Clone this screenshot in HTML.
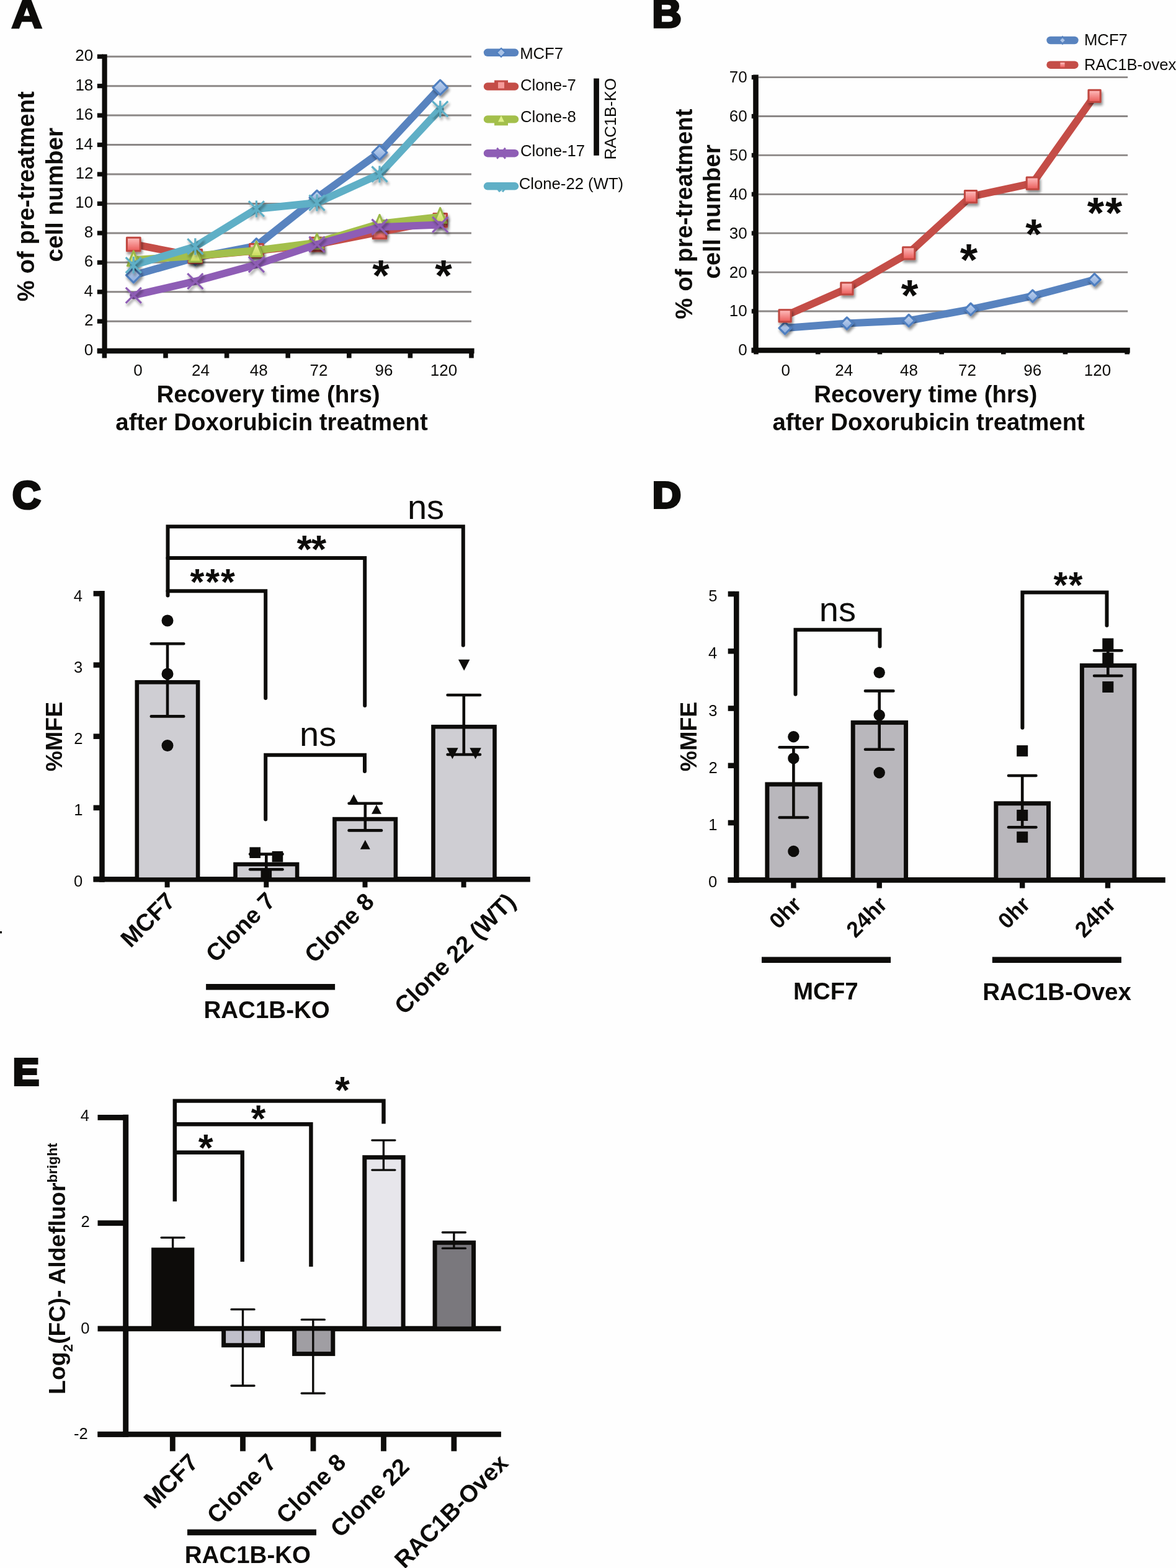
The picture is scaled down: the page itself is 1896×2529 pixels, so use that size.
<!DOCTYPE html>
<html><head><meta charset="utf-8"><title>Figure</title>
<style>
html,body{margin:0;padding:0;background:#fff;}
body{width:1896px;height:2529px;overflow:hidden;}
svg{display:block;}
text{font-family:'Liberation Sans', Arial, Helvetica, sans-serif;}
</style></head><body>
<svg width="1896" height="2529" viewBox="0 0 1896 2529">
<rect width="1896" height="2529" fill="#fefefe"/>
<defs>
<filter id="sh" x="-50%" y="-50%" width="220%" height="220%">
<feGaussianBlur in="SourceAlpha" stdDeviation="2.2"/>
<feOffset dx="2" dy="4" result="b"/>
<feComponentTransfer><feFuncA type="linear" slope="0.45"/></feComponentTransfer>
<feMerge><feMergeNode/><feMergeNode in="SourceGraphic"/></feMerge>
</filter>
<linearGradient id="gB" x1="0" y1="0" x2="0" y2="1"><stop offset="0" stop-color="#c3d5ef"/><stop offset="1" stop-color="#86a8db"/></linearGradient>
<linearGradient id="gR" x1="0" y1="0" x2="0" y2="1"><stop offset="0" stop-color="#ffc0c0"/><stop offset="1" stop-color="#ea5a58"/></linearGradient>
<linearGradient id="gG" x1="0" y1="0" x2="0" y2="1"><stop offset="0" stop-color="#f3f8b8"/><stop offset="1" stop-color="#c8dc58"/></linearGradient>
</defs>
<text transform="translate(18.6,45.8) scale(1.065,1)" x="-0.32" y="-1.3" font-size="65" font-weight="bold" fill="#0d0c0a" stroke="#0d0c0a" stroke-width="2.6" stroke-linejoin="miter">A</text>
<text transform="translate(1053.6,45.8) scale(1.03,1)" x="-2.36" y="-1.8" font-size="64" font-weight="bold" fill="#0d0c0a" stroke="#0d0c0a" stroke-width="3.6" stroke-linejoin="miter">B</text>
<text transform="translate(20.4,822) scale(0.995,1)" x="-0.44" y="-2.1" font-size="63.5" font-weight="bold" fill="#0d0c0a" stroke="#0d0c0a" stroke-width="4.2" stroke-linejoin="miter">C</text>
<text transform="translate(1053.8,821) scale(1.06,1)" x="-1.8" y="-2.1" font-size="60" font-weight="bold" fill="#0d0c0a" stroke="#0d0c0a" stroke-width="4.2" stroke-linejoin="miter">D</text>
<text transform="translate(22.8,1752.2) scale(1.04,1)" x="-1.87" y="-2.1" font-size="61" font-weight="bold" fill="#0d0c0a" stroke="#0d0c0a" stroke-width="4.2" stroke-linejoin="miter">E</text>
<line x1="172" y1="518.25" x2="760" y2="518.25" stroke="#8b8786" stroke-width="3" stroke-linecap="butt"/>
<line x1="172" y1="470.8" x2="760" y2="470.8" stroke="#8b8786" stroke-width="3" stroke-linecap="butt"/>
<line x1="172" y1="423.35" x2="760" y2="423.35" stroke="#8b8786" stroke-width="3" stroke-linecap="butt"/>
<line x1="172" y1="375.9" x2="760" y2="375.9" stroke="#8b8786" stroke-width="3" stroke-linecap="butt"/>
<line x1="172" y1="328.45" x2="760" y2="328.45" stroke="#8b8786" stroke-width="3" stroke-linecap="butt"/>
<line x1="172" y1="281" x2="760" y2="281" stroke="#8b8786" stroke-width="3" stroke-linecap="butt"/>
<line x1="172" y1="233.55" x2="760" y2="233.55" stroke="#8b8786" stroke-width="3" stroke-linecap="butt"/>
<line x1="172" y1="186.1" x2="760" y2="186.1" stroke="#8b8786" stroke-width="3" stroke-linecap="butt"/>
<line x1="172" y1="138.65" x2="760" y2="138.65" stroke="#8b8786" stroke-width="3" stroke-linecap="butt"/>
<line x1="172" y1="91.2" x2="760" y2="91.2" stroke="#8b8786" stroke-width="3" stroke-linecap="butt"/>
<line x1="168.6" y1="87.5" x2="168.6" y2="570" stroke="#0d0c0a" stroke-width="8.2" stroke-linecap="butt"/>
<rect x="156.8" y="562.1" width="9.2" height="7.2" fill="#0d0c0a"/>
<rect x="156.8" y="514.65" width="9.2" height="7.2" fill="#0d0c0a"/>
<rect x="156.8" y="467.2" width="9.2" height="7.2" fill="#0d0c0a"/>
<rect x="156.8" y="419.75" width="9.2" height="7.2" fill="#0d0c0a"/>
<rect x="156.8" y="372.3" width="9.2" height="7.2" fill="#0d0c0a"/>
<rect x="156.8" y="324.85" width="9.2" height="7.2" fill="#0d0c0a"/>
<rect x="156.8" y="277.4" width="9.2" height="7.2" fill="#0d0c0a"/>
<rect x="156.8" y="229.95" width="9.2" height="7.2" fill="#0d0c0a"/>
<rect x="156.8" y="182.5" width="9.2" height="7.2" fill="#0d0c0a"/>
<rect x="156.8" y="135.05" width="9.2" height="7.2" fill="#0d0c0a"/>
<rect x="156.8" y="87.6" width="9.2" height="7.2" fill="#0d0c0a"/>
<line x1="156.8" y1="566" x2="764.6" y2="566" stroke="#0d0c0a" stroke-width="8.4" stroke-linecap="butt"/>
<rect x="164.6" y="566" width="7.6" height="11.5" fill="#0d0c0a"/>
<rect x="263.2" y="566" width="7.6" height="11.5" fill="#0d0c0a"/>
<rect x="361.8" y="566" width="7.6" height="11.5" fill="#0d0c0a"/>
<rect x="460.4" y="566" width="7.6" height="11.5" fill="#0d0c0a"/>
<rect x="559" y="566" width="7.6" height="11.5" fill="#0d0c0a"/>
<rect x="657.6" y="566" width="7.6" height="11.5" fill="#0d0c0a"/>
<rect x="756.2" y="566" width="7.6" height="11.5" fill="#0d0c0a"/>
<text x="135.68" y="572.7" font-size="26" fill="#0d0c0a">0</text>
<text x="136.07" y="525.25" font-size="26" fill="#0d0c0a">2</text>
<text x="135.55" y="477.8" font-size="26" fill="#0d0c0a">4</text>
<text x="135.81" y="430.35" font-size="26" fill="#0d0c0a">6</text>
<text x="135.81" y="382.9" font-size="26" fill="#0d0c0a">8</text>
<text x="121.25" y="335.45" font-size="26" fill="#0d0c0a">10</text>
<text x="121.64" y="288" font-size="26" fill="#0d0c0a">12</text>
<text x="121.12" y="240.55" font-size="26" fill="#0d0c0a">14</text>
<text x="121.38" y="193.1" font-size="26" fill="#0d0c0a">16</text>
<text x="121.38" y="145.65" font-size="26" fill="#0d0c0a">18</text>
<text x="121.25" y="98.2" font-size="26" fill="#0d0c0a">20</text>
<text x="215.32" y="606.4" font-size="26" fill="#0d0c0a">0</text>
<text x="309.01" y="606.4" font-size="26" fill="#0d0c0a">24</text>
<text x="402.83" y="606.4" font-size="26" fill="#0d0c0a">48</text>
<text x="499.57" y="606.4" font-size="26" fill="#0d0c0a">72</text>
<text x="604.5" y="606.4" font-size="26" fill="#0d0c0a">96</text>
<text x="693.84" y="606.4" font-size="26" fill="#0d0c0a">120</text>
<text x="252.49" y="648.9" font-size="38.6" font-weight="bold" fill="#0d0c0a">Recovery time (hrs)</text>
<text x="186.35" y="694.4" font-size="38.4" font-weight="bold" fill="#0d0c0a">after Doxorubicin treatment</text>
<text transform="translate(55.2,485.3) rotate(-90)" x="-0.96" y="0" font-size="38.4" font-weight="bold" fill="#0d0c0a">% of pre-treatment</text>
<text transform="translate(101.3,421) rotate(-90)" x="-1.54" y="0" font-size="38.6" font-weight="bold" fill="#0d0c0a">cell number</text>
<polyline points="215.3,443.99 314.8,415.52 413.4,396.54 511,318.96 612,246.12 709.7,141.02" fill="none" stroke="#5883bf" stroke-width="12" stroke-linejoin="round" stroke-linecap="round"/>
<path d="M215.3,432.19 L227.1,443.99 L215.3,455.79 L203.5,443.99 Z" fill="url(#gB)" stroke="#4f7fc0" stroke-width="3.2" stroke-linejoin="round" filter="url(#sh)"/>
<path d="M314.8,403.72 L326.6,415.52 L314.8,427.32 L303,415.52 Z" fill="url(#gB)" stroke="#4f7fc0" stroke-width="3.2" stroke-linejoin="round" filter="url(#sh)"/>
<path d="M413.4,384.74 L425.2,396.54 L413.4,408.34 L401.6,396.54 Z" fill="url(#gB)" stroke="#4f7fc0" stroke-width="3.2" stroke-linejoin="round" filter="url(#sh)"/>
<path d="M511,307.16 L522.8,318.96 L511,330.76 L499.2,318.96 Z" fill="url(#gB)" stroke="#4f7fc0" stroke-width="3.2" stroke-linejoin="round" filter="url(#sh)"/>
<path d="M612,234.32 L623.8,246.12 L612,257.92 L600.2,246.12 Z" fill="url(#gB)" stroke="#4f7fc0" stroke-width="3.2" stroke-linejoin="round" filter="url(#sh)"/>
<path d="M709.7,129.22 L721.5,141.02 L709.7,152.82 L697.9,141.02 Z" fill="url(#gB)" stroke="#4f7fc0" stroke-width="3.2" stroke-linejoin="round" filter="url(#sh)"/>
<polyline points="215.3,393.93 314.8,413.39 413.4,404.37 511,394.17 612,374 709.7,355.26" fill="none" stroke="#c44d47" stroke-width="12" stroke-linejoin="round" stroke-linecap="round"/>
<rect x="204.5" y="383.13" width="21.6" height="21.6" fill="url(#gR)" stroke="#c0463f" stroke-width="3" stroke-linejoin="round" filter="url(#sh)"/>
<rect x="304" y="402.59" width="21.6" height="21.6" fill="url(#gR)" stroke="#c0463f" stroke-width="3" stroke-linejoin="round" filter="url(#sh)"/>
<rect x="402.6" y="393.57" width="21.6" height="21.6" fill="url(#gR)" stroke="#c0463f" stroke-width="3" stroke-linejoin="round" filter="url(#sh)"/>
<rect x="500.2" y="383.37" width="21.6" height="21.6" fill="url(#gR)" stroke="#c0463f" stroke-width="3" stroke-linejoin="round" filter="url(#sh)"/>
<rect x="601.2" y="363.2" width="21.6" height="21.6" fill="url(#gR)" stroke="#c0463f" stroke-width="3" stroke-linejoin="round" filter="url(#sh)"/>
<rect x="698.9" y="344.46" width="21.6" height="21.6" fill="url(#gR)" stroke="#c0463f" stroke-width="3" stroke-linejoin="round" filter="url(#sh)"/>
<polyline points="215.3,419.32 314.8,412.67 413.4,403.9 511,391.32 612,360.95 709.7,349.8" fill="none" stroke="#a3bf4b" stroke-width="12" stroke-linejoin="round" stroke-linecap="round"/>
<path d="M215.3,404.82 L225.3,428.82 L205.3,428.82 Z" fill="url(#gG)" stroke="#9ab847" stroke-width="3" stroke-linejoin="round" filter="url(#sh)"/>
<path d="M314.8,398.17 L324.8,422.17 L304.8,422.17 Z" fill="url(#gG)" stroke="#9ab847" stroke-width="3" stroke-linejoin="round" filter="url(#sh)"/>
<path d="M413.4,389.4 L423.4,413.4 L403.4,413.4 Z" fill="url(#gG)" stroke="#9ab847" stroke-width="3" stroke-linejoin="round" filter="url(#sh)"/>
<path d="M511,376.82 L521,400.82 L501,400.82 Z" fill="url(#gG)" stroke="#9ab847" stroke-width="3" stroke-linejoin="round" filter="url(#sh)"/>
<path d="M612,346.45 L622,370.45 L602,370.45 Z" fill="url(#gG)" stroke="#9ab847" stroke-width="3" stroke-linejoin="round" filter="url(#sh)"/>
<path d="M709.7,335.3 L719.7,359.3 L699.7,359.3 Z" fill="url(#gG)" stroke="#9ab847" stroke-width="3" stroke-linejoin="round" filter="url(#sh)"/>
<polyline points="215.3,476.49 314.8,453.72 413.4,426.67 511,394.17 612,366.17 709.7,362.38" fill="none" stroke="#8e5db5" stroke-width="12" stroke-linejoin="round" stroke-linecap="round"/>
<path d="M202.8,463.99 L227.8,488.99 M227.8,463.99 L202.8,488.99" stroke="#8e5db5" stroke-width="3.2" fill="none" filter="url(#sh)"/>
<path d="M302.3,441.22 L327.3,466.22 M327.3,441.22 L302.3,466.22" stroke="#8e5db5" stroke-width="3.2" fill="none" filter="url(#sh)"/>
<path d="M400.9,414.17 L425.9,439.17 M425.9,414.17 L400.9,439.17" stroke="#8e5db5" stroke-width="3.2" fill="none" filter="url(#sh)"/>
<path d="M498.5,381.67 L523.5,406.67 M523.5,381.67 L498.5,406.67" stroke="#8e5db5" stroke-width="3.2" fill="none" filter="url(#sh)"/>
<path d="M599.5,353.67 L624.5,378.67 M624.5,353.67 L599.5,378.67" stroke="#8e5db5" stroke-width="3.2" fill="none" filter="url(#sh)"/>
<path d="M697.2,349.88 L722.2,374.88 M722.2,349.88 L697.2,374.88" stroke="#8e5db5" stroke-width="3.2" fill="none" filter="url(#sh)"/>
<polyline points="215.3,427.62 314.8,397.73 413.4,336.99 511,327.03 612,281 709.7,175.9" fill="none" stroke="#5fafc6" stroke-width="12" stroke-linejoin="round" stroke-linecap="round"/>
<path d="M202.8,415.12 L227.8,440.12 M227.8,415.12 L202.8,440.12 M215.3,414.12 L215.3,441.12" stroke="#5fafc6" stroke-width="3.2" fill="none" filter="url(#sh)"/>
<path d="M302.3,385.23 L327.3,410.23 M327.3,385.23 L302.3,410.23 M314.8,384.23 L314.8,411.23" stroke="#5fafc6" stroke-width="3.2" fill="none" filter="url(#sh)"/>
<path d="M400.9,324.49 L425.9,349.49 M425.9,324.49 L400.9,349.49 M413.4,323.49 L413.4,350.49" stroke="#5fafc6" stroke-width="3.2" fill="none" filter="url(#sh)"/>
<path d="M498.5,314.53 L523.5,339.53 M523.5,314.53 L498.5,339.53 M511,313.53 L511,340.53" stroke="#5fafc6" stroke-width="3.2" fill="none" filter="url(#sh)"/>
<path d="M599.5,268.5 L624.5,293.5 M624.5,268.5 L599.5,293.5 M612,267.5 L612,294.5" stroke="#5fafc6" stroke-width="3.2" fill="none" filter="url(#sh)"/>
<path d="M697.2,163.4 L722.2,188.4 M722.2,163.4 L697.2,188.4 M709.7,162.4 L709.7,189.4" stroke="#5fafc6" stroke-width="3.2" fill="none" filter="url(#sh)"/>
<text x="600.25" y="469.26" font-size="70.81" font-weight="bold" fill="#0d0c0a">*</text>
<text x="701.25" y="469.26" font-size="70.81" font-weight="bold" fill="#0d0c0a">*</text>
<line x1="786" y1="84.8" x2="830" y2="84.8" stroke="#5883bf" stroke-width="12.4" stroke-linecap="round"/>
<path d="M808,77.8 L815,84.8 L808,91.8 L801,84.8 Z" fill="#a9c2e6" stroke="#4f7fc0" stroke-width="2"/>
<text x="838.14" y="94.5" font-size="25.7" fill="#0d0c0a">MCF7</text>
<line x1="786" y1="139.5" x2="830" y2="139.5" stroke="#c44d47" stroke-width="12.4" stroke-linecap="round"/>
<rect x="797" y="129.5" width="22" height="14" fill="#c44d47"/><rect x="803" y="132.5" width="10" height="10" fill="#f59a98"/>
<text x="838.92" y="146" font-size="25.7" fill="#0d0c0a">Clone-7</text>
<line x1="786" y1="192.4" x2="830" y2="192.4" stroke="#a3bf4b" stroke-width="12.4" stroke-linecap="round"/>
<rect x="797" y="190.4" width="22" height="12" fill="#a3bf4b"/><path d="M808,186.4 L813,196.4 L803,196.4 Z" fill="#dff08a"/>
<text x="838.92" y="196.9" font-size="25.7" fill="#0d0c0a">Clone-8</text>
<line x1="786" y1="247.2" x2="830" y2="247.2" stroke="#8e5db5" stroke-width="12.4" stroke-linecap="round"/>
<path d="M801.2,238.7 L814.8,255.7 M814.8,238.7 L801.2,255.7" stroke="#8e5db5" stroke-width="3"/>
<text x="838.92" y="252.4" font-size="25.7" fill="#0d0c0a">Clone-17</text>
<line x1="786" y1="300.3" x2="830" y2="300.3" stroke="#5fafc6" stroke-width="12.4" stroke-linecap="round"/>
<path d="M802,304.3 L806,309.3 M814,304.3 L810,309.3 M807,302.3 L807,308.3" stroke="#5fafc6" stroke-width="3"/>
<text x="836.72" y="305.4" font-size="25.7" fill="#0d0c0a">Clone-22 (WT)</text>
<rect x="957.2" y="126.5" width="8.7" height="124.3" fill="#0d0c0a"/>
<text transform="translate(993.4,255.4) rotate(-90)" x="-2.06" y="0" font-size="25.7" fill="#0d0c0a">RAC1B-KO</text>
<line x1="1223" y1="502" x2="1818.2" y2="502" stroke="#8b8786" stroke-width="2.8" stroke-linecap="butt"/>
<line x1="1223" y1="439.1" x2="1818.2" y2="439.1" stroke="#8b8786" stroke-width="2.8" stroke-linecap="butt"/>
<line x1="1223" y1="376.2" x2="1818.2" y2="376.2" stroke="#8b8786" stroke-width="2.8" stroke-linecap="butt"/>
<line x1="1223" y1="313.3" x2="1818.2" y2="313.3" stroke="#8b8786" stroke-width="2.8" stroke-linecap="butt"/>
<line x1="1223" y1="250.4" x2="1818.2" y2="250.4" stroke="#8b8786" stroke-width="2.8" stroke-linecap="butt"/>
<line x1="1223" y1="187.5" x2="1818.2" y2="187.5" stroke="#8b8786" stroke-width="2.8" stroke-linecap="butt"/>
<line x1="1223" y1="124.6" x2="1818.2" y2="124.6" stroke="#8b8786" stroke-width="2.8" stroke-linecap="butt"/>
<line x1="1218.5" y1="120.6" x2="1218.5" y2="569" stroke="#0d0c0a" stroke-width="8.6" stroke-linecap="butt"/>
<rect x="1211.8" y="561.3" width="4.2" height="7.2" fill="#0d0c0a"/>
<rect x="1211.8" y="498.4" width="4.2" height="7.2" fill="#0d0c0a"/>
<rect x="1211.8" y="435.5" width="4.2" height="7.2" fill="#0d0c0a"/>
<rect x="1211.8" y="372.6" width="4.2" height="7.2" fill="#0d0c0a"/>
<rect x="1211.8" y="309.7" width="4.2" height="7.2" fill="#0d0c0a"/>
<rect x="1211.8" y="246.8" width="4.2" height="7.2" fill="#0d0c0a"/>
<rect x="1211.8" y="183.9" width="4.2" height="7.2" fill="#0d0c0a"/>
<rect x="1211.8" y="121" width="4.2" height="7.2" fill="#0d0c0a"/>
<line x1="1211.6" y1="565" x2="1821.8" y2="565" stroke="#0d0c0a" stroke-width="8.4" stroke-linecap="butt"/>
<rect x="1215.2" y="565" width="7.6" height="6.4" fill="#0d0c0a"/>
<rect x="1314.9" y="565" width="7.6" height="6.4" fill="#0d0c0a"/>
<rect x="1414.6" y="565" width="7.6" height="6.4" fill="#0d0c0a"/>
<rect x="1514.3" y="565" width="7.6" height="6.4" fill="#0d0c0a"/>
<rect x="1614" y="565" width="7.6" height="6.4" fill="#0d0c0a"/>
<rect x="1713.7" y="565" width="7.6" height="6.4" fill="#0d0c0a"/>
<rect x="1813.4" y="565" width="7.6" height="6.4" fill="#0d0c0a"/>
<text x="1190.28" y="573.3" font-size="26" fill="#0d0c0a">0</text>
<text x="1175.85" y="510.4" font-size="26" fill="#0d0c0a">10</text>
<text x="1175.85" y="447.5" font-size="26" fill="#0d0c0a">20</text>
<text x="1175.85" y="384.6" font-size="26" fill="#0d0c0a">30</text>
<text x="1175.85" y="321.7" font-size="26" fill="#0d0c0a">40</text>
<text x="1175.85" y="258.8" font-size="26" fill="#0d0c0a">50</text>
<text x="1175.85" y="195.9" font-size="26" fill="#0d0c0a">60</text>
<text x="1175.85" y="133" font-size="26" fill="#0d0c0a">70</text>
<text x="1259.52" y="605.8" font-size="26" fill="#0d0c0a">0</text>
<text x="1346.21" y="605.8" font-size="26" fill="#0d0c0a">24</text>
<text x="1451.03" y="605.8" font-size="26" fill="#0d0c0a">48</text>
<text x="1544.97" y="605.8" font-size="26" fill="#0d0c0a">72</text>
<text x="1650.21" y="605.8" font-size="26" fill="#0d0c0a">96</text>
<text x="1747.84" y="605.8" font-size="26" fill="#0d0c0a">120</text>
<text x="1312.19" y="649" font-size="38.6" font-weight="bold" fill="#0d0c0a">Recovery time (hrs)</text>
<text x="1245.45" y="694.4" font-size="38.4" font-weight="bold" fill="#0d0c0a">after Doxorubicin treatment</text>
<text transform="translate(1115.7,513.7) rotate(-90)" x="-0.96" y="0" font-size="38.4" font-weight="bold" fill="#0d0c0a">% of pre-treatment</text>
<text transform="translate(1160.8,448.2) rotate(-90)" x="-1.54" y="0" font-size="38.6" font-weight="bold" fill="#0d0c0a">cell number</text>
<polyline points="1265.6,529.17 1365.4,521.5 1465.2,517.1 1565,498.85 1664.8,477.47 1764.6,451.05" fill="none" stroke="#5883bf" stroke-width="12" stroke-linejoin="round" stroke-linecap="round"/>
<path d="M1265.6,519.57 L1275.2,529.17 L1265.6,538.77 L1256,529.17 Z" fill="url(#gB)" stroke="#4f7fc0" stroke-width="3.2" stroke-linejoin="round" filter="url(#sh)"/>
<path d="M1365.4,511.9 L1375,521.5 L1365.4,531.1 L1355.8,521.5 Z" fill="url(#gB)" stroke="#4f7fc0" stroke-width="3.2" stroke-linejoin="round" filter="url(#sh)"/>
<path d="M1465.2,507.5 L1474.8,517.1 L1465.2,526.7 L1455.6,517.1 Z" fill="url(#gB)" stroke="#4f7fc0" stroke-width="3.2" stroke-linejoin="round" filter="url(#sh)"/>
<path d="M1565,489.25 L1574.6,498.85 L1565,508.45 L1555.4,498.85 Z" fill="url(#gB)" stroke="#4f7fc0" stroke-width="3.2" stroke-linejoin="round" filter="url(#sh)"/>
<path d="M1664.8,467.87 L1674.4,477.47 L1664.8,487.07 L1655.2,477.47 Z" fill="url(#gB)" stroke="#4f7fc0" stroke-width="3.2" stroke-linejoin="round" filter="url(#sh)"/>
<path d="M1764.6,441.45 L1774.2,451.05 L1764.6,460.65 L1755,451.05 Z" fill="url(#gB)" stroke="#4f7fc0" stroke-width="3.2" stroke-linejoin="round" filter="url(#sh)"/>
<polyline points="1265.6,509.42 1365.4,465.52 1465.2,408.28 1565,317.07 1664.8,295.69 1764.6,154.79" fill="none" stroke="#c44d47" stroke-width="12" stroke-linejoin="round" stroke-linecap="round"/>
<rect x="1256" y="499.82" width="19.2" height="19.2" fill="url(#gR)" stroke="#c0463f" stroke-width="3" stroke-linejoin="round" filter="url(#sh)"/>
<rect x="1355.8" y="455.92" width="19.2" height="19.2" fill="url(#gR)" stroke="#c0463f" stroke-width="3" stroke-linejoin="round" filter="url(#sh)"/>
<rect x="1455.6" y="398.68" width="19.2" height="19.2" fill="url(#gR)" stroke="#c0463f" stroke-width="3" stroke-linejoin="round" filter="url(#sh)"/>
<rect x="1555.4" y="307.47" width="19.2" height="19.2" fill="url(#gR)" stroke="#c0463f" stroke-width="3" stroke-linejoin="round" filter="url(#sh)"/>
<rect x="1655.2" y="286.09" width="19.2" height="19.2" fill="url(#gR)" stroke="#c0463f" stroke-width="3" stroke-linejoin="round" filter="url(#sh)"/>
<rect x="1755" y="145.19" width="19.2" height="19.2" fill="url(#gR)" stroke="#c0463f" stroke-width="3" stroke-linejoin="round" filter="url(#sh)"/>
<text x="1452.84" y="500.85" font-size="71.08" font-weight="bold" fill="#0d0c0a">*</text>
<text x="1547.64" y="444.35" font-size="72.97" font-weight="bold" fill="#0d0c0a">*</text>
<text x="1653.36" y="400.97" font-size="68.65" font-weight="bold" fill="#0d0c0a">*</text>
<text x="1752.65" y="368.49" font-size="70.27" font-weight="bold" fill="#0d0c0a">*</text>
<text x="1781.95" y="368.49" font-size="70.27" font-weight="bold" fill="#0d0c0a">*</text>
<line x1="1693.5" y1="65" x2="1732.5" y2="65" stroke="#5883bf" stroke-width="12.4" stroke-linecap="round"/>
<path d="M1713,57.5 L1719.5,65 L1713,72.5 L1706.5,65 Z" fill="#5883bf"/><path d="M1713,61.2 L1716.8,65 L1713,68.8 L1709.2,65 Z" fill="#a9c2e6"/>
<text x="1747.94" y="73" font-size="25.7" fill="#0d0c0a">MCF7</text>
<line x1="1693.5" y1="104.7" x2="1732.5" y2="104.7" stroke="#c44d47" stroke-width="12.4" stroke-linecap="round"/>
<rect x="1709.4" y="100.9" width="7.2" height="7.6" fill="url(#gR)"/>
<text x="1747.94" y="113.4" font-size="25.7" fill="#0d0c0a">RAC1B-ovex</text>
<line x1="164.5" y1="953" x2="164.5" y2="1422.7" stroke="#0d0c0a" stroke-width="8.5" stroke-linecap="butt"/>
<rect x="150.6" y="1413.7" width="10.4" height="8.6" fill="#0d0c0a"/>
<rect x="150.6" y="1298.55" width="10.4" height="8.6" fill="#0d0c0a"/>
<rect x="150.6" y="1183.4" width="10.4" height="8.6" fill="#0d0c0a"/>
<rect x="150.6" y="1068.25" width="10.4" height="8.6" fill="#0d0c0a"/>
<rect x="150.6" y="953.1" width="10.4" height="8.6" fill="#0d0c0a"/>
<line x1="150.6" y1="1418.3" x2="854.8" y2="1418.3" stroke="#0d0c0a" stroke-width="8.5" stroke-linecap="butt"/>
<rect x="265.6" y="1420" width="8" height="11.3" fill="#0d0c0a"/>
<rect x="425.3" y="1420" width="8" height="11.3" fill="#0d0c0a"/>
<rect x="584.5" y="1420" width="8" height="11.3" fill="#0d0c0a"/>
<rect x="743.6" y="1420" width="8" height="11.3" fill="#0d0c0a"/>
<text x="118.99" y="1430.4" font-size="25.6" fill="#0d0c0a">0</text>
<text x="119.24" y="1315.25" font-size="25.6" fill="#0d0c0a">1</text>
<text x="119.37" y="1200.1" font-size="25.6" fill="#0d0c0a">2</text>
<text x="119.12" y="1084.95" font-size="25.6" fill="#0d0c0a">3</text>
<text x="118.86" y="969.8" font-size="25.6" fill="#0d0c0a">4</text>
<rect x="220.8" y="1100.3" width="98.3" height="318.2" fill="#cfced3" stroke="#0d0c0a" stroke-width="6.6"/>
<rect x="379.5" y="1394" width="99.6" height="24.5" fill="#cfced3" stroke="#0d0c0a" stroke-width="6.6"/>
<rect x="539.4" y="1321.1" width="98.5" height="97.4" fill="#cfced3" stroke="#0d0c0a" stroke-width="6.6"/>
<rect x="698.5" y="1172.2" width="99" height="246.3" fill="#cfced3" stroke="#0d0c0a" stroke-width="6.6"/>
<line x1="270" y1="1038.3" x2="270" y2="1155.4" stroke="#0d0c0a" stroke-width="4.6" stroke-linecap="butt"/>
<line x1="243.8" y1="1038.3" x2="296.2" y2="1038.3" stroke="#0d0c0a" stroke-width="4.6" stroke-linecap="round"/>
<line x1="243.8" y1="1155.4" x2="296.2" y2="1155.4" stroke="#0d0c0a" stroke-width="4.6" stroke-linecap="round"/>
<line x1="429.3" y1="1377.6" x2="429.3" y2="1402.2" stroke="#0d0c0a" stroke-width="4.6" stroke-linecap="butt"/>
<line x1="403.1" y1="1377.6" x2="455.5" y2="1377.6" stroke="#0d0c0a" stroke-width="4.6" stroke-linecap="round"/>
<line x1="403.1" y1="1402.2" x2="455.5" y2="1402.2" stroke="#0d0c0a" stroke-width="4.6" stroke-linecap="round"/>
<line x1="588.8" y1="1295.8" x2="588.8" y2="1339.4" stroke="#0d0c0a" stroke-width="4.6" stroke-linecap="butt"/>
<line x1="562.6" y1="1295.8" x2="615" y2="1295.8" stroke="#0d0c0a" stroke-width="4.6" stroke-linecap="round"/>
<line x1="562.6" y1="1339.4" x2="615" y2="1339.4" stroke="#0d0c0a" stroke-width="4.6" stroke-linecap="round"/>
<line x1="747.8" y1="1121" x2="747.8" y2="1217" stroke="#0d0c0a" stroke-width="4.6" stroke-linecap="butt"/>
<line x1="721.6" y1="1121" x2="774" y2="1121" stroke="#0d0c0a" stroke-width="4.6" stroke-linecap="round"/>
<line x1="721.6" y1="1217" x2="774" y2="1217" stroke="#0d0c0a" stroke-width="4.6" stroke-linecap="round"/>
<circle cx="270" cy="1001" r="9.5" fill="#0d0c0a"/>
<circle cx="270" cy="1086.9" r="9.5" fill="#0d0c0a"/>
<circle cx="270" cy="1202.5" r="9.5" fill="#0d0c0a"/>
<rect x="402.4" y="1366.4" width="17.6" height="17.6" fill="#0d0c0a"/>
<rect x="438.6" y="1372.9" width="17.6" height="17.6" fill="#0d0c0a"/>
<rect x="420.5" y="1403.1" width="17.6" height="17.6" fill="#0d0c0a"/>
<path d="M570.3,1281.2 L578.3,1296.2 L562.3,1296.2 Z" fill="#0d0c0a"/>
<path d="M607,1297.7 L615,1312.7 L599,1312.7 Z" fill="#0d0c0a"/>
<path d="M588.8,1354.7 L596.8,1369.7 L580.8,1369.7 Z" fill="#0d0c0a"/>
<path d="M720.15,1206.2 L738.65,1206.2 L729.4,1224.2 Z" fill="#0d0c0a"/>
<path d="M757.35,1206.2 L775.85,1206.2 L766.6,1224.2 Z" fill="#0d0c0a"/>
<path d="M738.95,1063.7 L757.45,1063.7 L748.2,1081.7 Z" fill="#0d0c0a"/>
<polyline points="270.5,960.4 270.5,849.2 746.8,849.2 746.8,1040.8" fill="none" stroke="#0d0c0a" stroke-width="6" stroke-linejoin="miter" stroke-linecap="round"/>
<polyline points="270.5,899.9 588.2,899.9 588.2,1138" fill="none" stroke="#0d0c0a" stroke-width="6" stroke-linejoin="miter" stroke-linecap="round"/>
<polyline points="270.5,953.2 428.2,953.2 428.2,1126" fill="none" stroke="#0d0c0a" stroke-width="6" stroke-linejoin="miter" stroke-linecap="round"/>
<polyline points="428.2,1321.4 428.2,1217.8 588,1217.8 588,1243.9" fill="none" stroke="#0d0c0a" stroke-width="6" stroke-linejoin="miter" stroke-linecap="round"/>
<text x="656.96" y="836.7" font-size="56" fill="#0d0c0a">ns</text>
<text x="483.06" y="1202.6" font-size="56" fill="#0d0c0a">ns</text>
<text x="478.39" y="907.46" font-size="62.7" font-weight="bold" fill="#0d0c0a">*</text>
<text x="501.86" y="907.46" font-size="62.7" font-weight="bold" fill="#0d0c0a">*</text>
<text x="306.41" y="958.77" font-size="58.65" font-weight="bold" fill="#0d0c0a">*</text>
<text x="331.26" y="958.77" font-size="58.65" font-weight="bold" fill="#0d0c0a">*</text>
<text x="356.12" y="958.77" font-size="58.65" font-weight="bold" fill="#0d0c0a">*</text>
<text transform="translate(99.7,1243.3) rotate(-90)" x="-0.94" y="0" font-size="37.5" font-weight="bold" fill="#0d0c0a">%MFE</text>
<rect x="0" y="1502" width="3" height="3.4" fill="#0d0c0a"/>
<text transform="translate(284.68,1455.8) rotate(-45)" x="0" y="0" text-anchor="end" font-size="38.5" font-weight="bold" fill="#0d0c0a">MCF7</text>
<text transform="translate(446.17,1455.61) rotate(-45)" x="0" y="0" text-anchor="end" font-size="38.5" font-weight="bold" fill="#0d0c0a">Clone 7</text>
<text transform="translate(605.3,1456.59) rotate(-45)" x="0" y="0" text-anchor="end" font-size="38.5" font-weight="bold" fill="#0d0c0a">Clone 8</text>
<text transform="translate(833.47,1456.58) rotate(-45)" x="0" y="0" text-anchor="end" font-size="38.5" font-weight="bold" fill="#0d0c0a">Clone 22 (WT)</text>
<rect x="332.1" y="1587" width="208" height="9.6" fill="#0d0c0a"/>
<text x="328.5" y="1642" font-size="38.5" font-weight="bold" fill="#0d0c0a">RAC1B-KO</text>
<line x1="1187.3" y1="953.7" x2="1187.3" y2="1423.7" stroke="#0d0c0a" stroke-width="8.6" stroke-linecap="butt"/>
<rect x="1173.7" y="1415" width="10.3" height="8.6" fill="#0d0c0a"/>
<rect x="1173.7" y="1322.74" width="10.3" height="8.6" fill="#0d0c0a"/>
<rect x="1173.7" y="1230.48" width="10.3" height="8.6" fill="#0d0c0a"/>
<rect x="1173.7" y="1138.22" width="10.3" height="8.6" fill="#0d0c0a"/>
<rect x="1173.7" y="1045.96" width="10.3" height="8.6" fill="#0d0c0a"/>
<rect x="1173.7" y="953.7" width="10.3" height="8.6" fill="#0d0c0a"/>
<line x1="1173.6" y1="1419.3" x2="1878.8" y2="1419.3" stroke="#0d0c0a" stroke-width="8.8" stroke-linecap="butt"/>
<rect x="1275.2" y="1421" width="8.4" height="11.5" fill="#0d0c0a"/>
<rect x="1413.5" y="1421" width="8.4" height="11.5" fill="#0d0c0a"/>
<rect x="1644" y="1421" width="8.4" height="11.5" fill="#0d0c0a"/>
<rect x="1781.8" y="1421" width="8.4" height="11.5" fill="#0d0c0a"/>
<text x="1142.09" y="1431.4" font-size="25.6" fill="#0d0c0a">0</text>
<text x="1142.34" y="1339.14" font-size="25.6" fill="#0d0c0a">1</text>
<text x="1142.47" y="1246.88" font-size="25.6" fill="#0d0c0a">2</text>
<text x="1142.22" y="1154.62" font-size="25.6" fill="#0d0c0a">3</text>
<text x="1141.96" y="1062.36" font-size="25.6" fill="#0d0c0a">4</text>
<text x="1142.22" y="970.1" font-size="25.6" fill="#0d0c0a">5</text>
<rect x="1236.9" y="1265" width="85.2" height="154.3" fill="#b9b7bc" stroke="#0d0c0a" stroke-width="7"/>
<rect x="1375.2" y="1165.4" width="85.4" height="253.9" fill="#b9b7bc" stroke="#0d0c0a" stroke-width="7"/>
<rect x="1605.8" y="1295.8" width="84.7" height="123.5" fill="#b9b7bc" stroke="#0d0c0a" stroke-width="7"/>
<rect x="1744.4" y="1073.4" width="84.5" height="345.9" fill="#b9b7bc" stroke="#0d0c0a" stroke-width="7"/>
<line x1="1279.4" y1="1205.2" x2="1279.4" y2="1318.5" stroke="#0d0c0a" stroke-width="4.6" stroke-linecap="butt"/>
<line x1="1256.7" y1="1205.2" x2="1302.1" y2="1205.2" stroke="#0d0c0a" stroke-width="4.6" stroke-linecap="round"/>
<line x1="1256.7" y1="1318.5" x2="1302.1" y2="1318.5" stroke="#0d0c0a" stroke-width="4.6" stroke-linecap="round"/>
<line x1="1417.7" y1="1114.4" x2="1417.7" y2="1208.8" stroke="#0d0c0a" stroke-width="4.6" stroke-linecap="butt"/>
<line x1="1395" y1="1114.4" x2="1440.4" y2="1114.4" stroke="#0d0c0a" stroke-width="4.6" stroke-linecap="round"/>
<line x1="1395" y1="1208.8" x2="1440.4" y2="1208.8" stroke="#0d0c0a" stroke-width="4.6" stroke-linecap="round"/>
<line x1="1648.2" y1="1251" x2="1648.2" y2="1334.3" stroke="#0d0c0a" stroke-width="4.6" stroke-linecap="butt"/>
<line x1="1626" y1="1251" x2="1670.4" y2="1251" stroke="#0d0c0a" stroke-width="4.6" stroke-linecap="round"/>
<line x1="1626" y1="1334.3" x2="1670.4" y2="1334.3" stroke="#0d0c0a" stroke-width="4.6" stroke-linecap="round"/>
<line x1="1786.3" y1="1049.3" x2="1786.3" y2="1090" stroke="#0d0c0a" stroke-width="4.6" stroke-linecap="butt"/>
<line x1="1764.1" y1="1049.3" x2="1808.5" y2="1049.3" stroke="#0d0c0a" stroke-width="4.6" stroke-linecap="round"/>
<line x1="1764.1" y1="1090" x2="1808.5" y2="1090" stroke="#0d0c0a" stroke-width="4.6" stroke-linecap="round"/>
<circle cx="1279.4" cy="1188.3" r="9.2" fill="#0d0c0a"/>
<circle cx="1279.4" cy="1223.1" r="9.2" fill="#0d0c0a"/>
<circle cx="1279.4" cy="1373" r="9.2" fill="#0d0c0a"/>
<circle cx="1417.7" cy="1084.8" r="9.2" fill="#0d0c0a"/>
<circle cx="1417.7" cy="1153.4" r="9.2" fill="#0d0c0a"/>
<circle cx="1417.7" cy="1246.3" r="9.2" fill="#0d0c0a"/>
<rect x="1639.2" y="1202.1" width="18" height="18" fill="#0d0c0a"/>
<rect x="1639.2" y="1306" width="18" height="18" fill="#0d0c0a"/>
<rect x="1639.2" y="1341.2" width="18" height="18" fill="#0d0c0a"/>
<rect x="1777.3" y="1029.5" width="18" height="18" fill="#0d0c0a"/>
<rect x="1777.3" y="1052.7" width="18" height="18" fill="#0d0c0a"/>
<rect x="1777.3" y="1099" width="18" height="18" fill="#0d0c0a"/>
<polyline points="1282.5,1119.7 1282.5,1015.7 1418.5,1015.7 1418.5,1042.6" fill="none" stroke="#0d0c0a" stroke-width="6" stroke-linejoin="miter" stroke-linecap="round"/>
<polyline points="1648.4,1173.7 1648.4,955.6 1784.5,955.6 1784.5,1008.8" fill="none" stroke="#0d0c0a" stroke-width="6" stroke-linejoin="miter" stroke-linecap="round"/>
<text x="1320.86" y="1001.5" font-size="56" fill="#0d0c0a">ns</text>
<text x="1698.61" y="963.58" font-size="58.38" font-weight="bold" fill="#0d0c0a">*</text>
<text x="1722.82" y="963.58" font-size="58.38" font-weight="bold" fill="#0d0c0a">*</text>
<text transform="translate(1123.1,1243.2) rotate(-90)" x="-0.94" y="0" font-size="37.5" font-weight="bold" fill="#0d0c0a">%MFE</text>
<text transform="translate(1294.11,1460.83) rotate(-45)" x="0" y="0" text-anchor="end" font-size="35.6" font-weight="bold" fill="#0d0c0a">0hr</text>
<text transform="translate(1432.32,1460.93) rotate(-45)" x="0" y="0" text-anchor="end" font-size="35.6" font-weight="bold" fill="#0d0c0a">24hr</text>
<text transform="translate(1662.81,1460.83) rotate(-45)" x="0" y="0" text-anchor="end" font-size="35.6" font-weight="bold" fill="#0d0c0a">0hr</text>
<text transform="translate(1800.82,1460.93) rotate(-45)" x="0" y="0" text-anchor="end" font-size="35.6" font-weight="bold" fill="#0d0c0a">24hr</text>
<rect x="1228" y="1543.4" width="208.1" height="9.6" fill="#0d0c0a"/>
<rect x="1599.8" y="1543.4" width="208.1" height="9.6" fill="#0d0c0a"/>
<text x="1278.9" y="1612.1" font-size="38.5" font-weight="bold" fill="#0d0c0a">MCF7</text>
<text x="1584.3" y="1612.7" font-size="38.5" font-weight="bold" fill="#0d0c0a">RAC1B-Ovex</text>
<line x1="202.7" y1="1797.8" x2="202.7" y2="2317.8" stroke="#0d0c0a" stroke-width="9" stroke-linecap="butt"/>
<rect x="157.5" y="1798" width="42.5" height="8.8" fill="#0d0c0a"/>
<rect x="157.5" y="1968.3" width="42.5" height="8.8" fill="#0d0c0a"/>
<rect x="157.5" y="2138.6" width="42.5" height="8.8" fill="#0d0c0a"/>
<rect x="157.5" y="2308.9" width="42.5" height="8.8" fill="#0d0c0a"/>
<line x1="198" y1="2143" x2="807.7" y2="2143" stroke="#0d0c0a" stroke-width="8.5" stroke-linecap="butt"/>
<line x1="157.5" y1="2313.4" x2="807.9" y2="2313.4" stroke="#0d0c0a" stroke-width="8.7" stroke-linecap="butt"/>
<rect x="273.9" y="2315" width="8.8" height="25.6" fill="#0d0c0a"/>
<rect x="387.1" y="2315" width="8.8" height="25.6" fill="#0d0c0a"/>
<rect x="500.6" y="2315" width="8.8" height="25.6" fill="#0d0c0a"/>
<rect x="614.1" y="2315" width="8.8" height="25.6" fill="#0d0c0a"/>
<rect x="727.5" y="2315" width="8.8" height="25.6" fill="#0d0c0a"/>
<text x="129.76" y="1807.8" font-size="25.6" fill="#0d0c0a">4</text>
<text x="130.47" y="1978.5" font-size="25.6" fill="#0d0c0a">2</text>
<text x="130.29" y="2151.1" font-size="25.6" fill="#0d0c0a">0</text>
<text x="118.9" y="2321.4" font-size="25.6" fill="#0d0c0a">-2</text>
<rect x="244.1" y="2012.3" width="69.2" height="130.7" fill="#0d0c0a"/>
<rect x="360.6" y="2143" width="62.9" height="26.7" fill="#c0bfca" stroke="#0d0c0a" stroke-width="7"/>
<rect x="474.6" y="2143" width="62.2" height="40.6" fill="#a09ea3" stroke="#0d0c0a" stroke-width="7"/>
<rect x="587.8" y="1866.7" width="62.3" height="276.3" fill="#e7e6eb" stroke="#0d0c0a" stroke-width="7"/>
<rect x="701.1" y="2004.3" width="62.5" height="138.7" fill="#7a787d" stroke="#0d0c0a" stroke-width="7"/>
<line x1="278.6" y1="1996.1" x2="278.6" y2="2014" stroke="#0d0c0a" stroke-width="3.4" stroke-linecap="butt"/>
<line x1="260.1" y1="1996.1" x2="297.1" y2="1996.1" stroke="#0d0c0a" stroke-width="3.4" stroke-linecap="round"/>
<line x1="391.5" y1="2111.9" x2="391.5" y2="2235" stroke="#0d0c0a" stroke-width="3.4" stroke-linecap="butt"/>
<line x1="373" y1="2111.9" x2="410" y2="2111.9" stroke="#0d0c0a" stroke-width="3.4" stroke-linecap="round"/>
<line x1="373" y1="2235" x2="410" y2="2235" stroke="#0d0c0a" stroke-width="3.4" stroke-linecap="round"/>
<line x1="504.8" y1="2128.4" x2="504.8" y2="2247.3" stroke="#0d0c0a" stroke-width="3.4" stroke-linecap="butt"/>
<line x1="486.3" y1="2128.4" x2="523.3" y2="2128.4" stroke="#0d0c0a" stroke-width="3.4" stroke-linecap="round"/>
<line x1="486.3" y1="2247.3" x2="523.3" y2="2247.3" stroke="#0d0c0a" stroke-width="3.4" stroke-linecap="round"/>
<line x1="618.4" y1="1839.1" x2="618.4" y2="1887.1" stroke="#0d0c0a" stroke-width="3.4" stroke-linecap="butt"/>
<line x1="599.9" y1="1839.1" x2="636.9" y2="1839.1" stroke="#0d0c0a" stroke-width="3.4" stroke-linecap="round"/>
<line x1="599.9" y1="1887.1" x2="636.9" y2="1887.1" stroke="#0d0c0a" stroke-width="3.4" stroke-linecap="round"/>
<line x1="731.9" y1="1987.7" x2="731.9" y2="2013.4" stroke="#0d0c0a" stroke-width="3.4" stroke-linecap="butt"/>
<line x1="713.4" y1="1987.7" x2="750.4" y2="1987.7" stroke="#0d0c0a" stroke-width="3.4" stroke-linecap="round"/>
<line x1="713.4" y1="2013.4" x2="750.4" y2="2013.4" stroke="#0d0c0a" stroke-width="3.4" stroke-linecap="round"/>
<polyline points="281.8,1937.8 281.8,1775.6 618.5,1775.6 618.5,1812.6" fill="none" stroke="#0d0c0a" stroke-width="6.4" stroke-linejoin="miter" stroke-linecap="butt"/>
<polyline points="281.8,1813.2 501.4,1813.2 501.4,2043.1" fill="none" stroke="#0d0c0a" stroke-width="6.4" stroke-linejoin="miter" stroke-linecap="butt"/>
<polyline points="281.8,1858.7 390.7,1858.7 390.7,2034.9" fill="none" stroke="#0d0c0a" stroke-width="6.4" stroke-linejoin="miter" stroke-linecap="butt"/>
<text x="539.89" y="1778.73" font-size="61.35" font-weight="bold" fill="#0d0c0a">*</text>
<text x="404.7" y="1824.97" font-size="60.54" font-weight="bold" fill="#0d0c0a">*</text>
<text x="319.69" y="1872.33" font-size="61.35" font-weight="bold" fill="#0d0c0a">*</text>
<text transform="translate(104.6,2246.5) rotate(-90)" x="-2.43" y="0" font-size="37.4" font-weight="bold" fill="#0d0c0a">Log<tspan font-size="22.6" dy="12.4">2</tspan><tspan dy="-12.4">(FC)- Aldefluor</tspan><tspan font-size="22.6" dy="-12.8">bright</tspan></text>
<text transform="translate(321.78,2361.2) rotate(-45)" x="0" y="0" text-anchor="end" font-size="38.5" font-weight="bold" fill="#0d0c0a">MCF7</text>
<text transform="translate(447.97,2361.21) rotate(-45)" x="0" y="0" text-anchor="end" font-size="38.5" font-weight="bold" fill="#0d0c0a">Clone 7</text>
<text transform="translate(559.8,2361.09) rotate(-45)" x="0" y="0" text-anchor="end" font-size="38.5" font-weight="bold" fill="#0d0c0a">Clone 8</text>
<text transform="translate(662.24,2368.12) rotate(-45)" x="0" y="0" text-anchor="end" font-size="38.5" font-weight="bold" fill="#0d0c0a">Clone 22</text>
<text transform="translate(821.39,2362.07) rotate(-45)" x="0" y="0" text-anchor="end" font-size="38.5" font-weight="bold" fill="#0d0c0a">RAC1B-Ovex</text>
<rect x="302" y="2466.7" width="208" height="9.6" fill="#0d0c0a"/>
<text x="297.8" y="2521.4" font-size="38.5" font-weight="bold" fill="#0d0c0a">RAC1B-KO</text>
</svg>
</body></html>
